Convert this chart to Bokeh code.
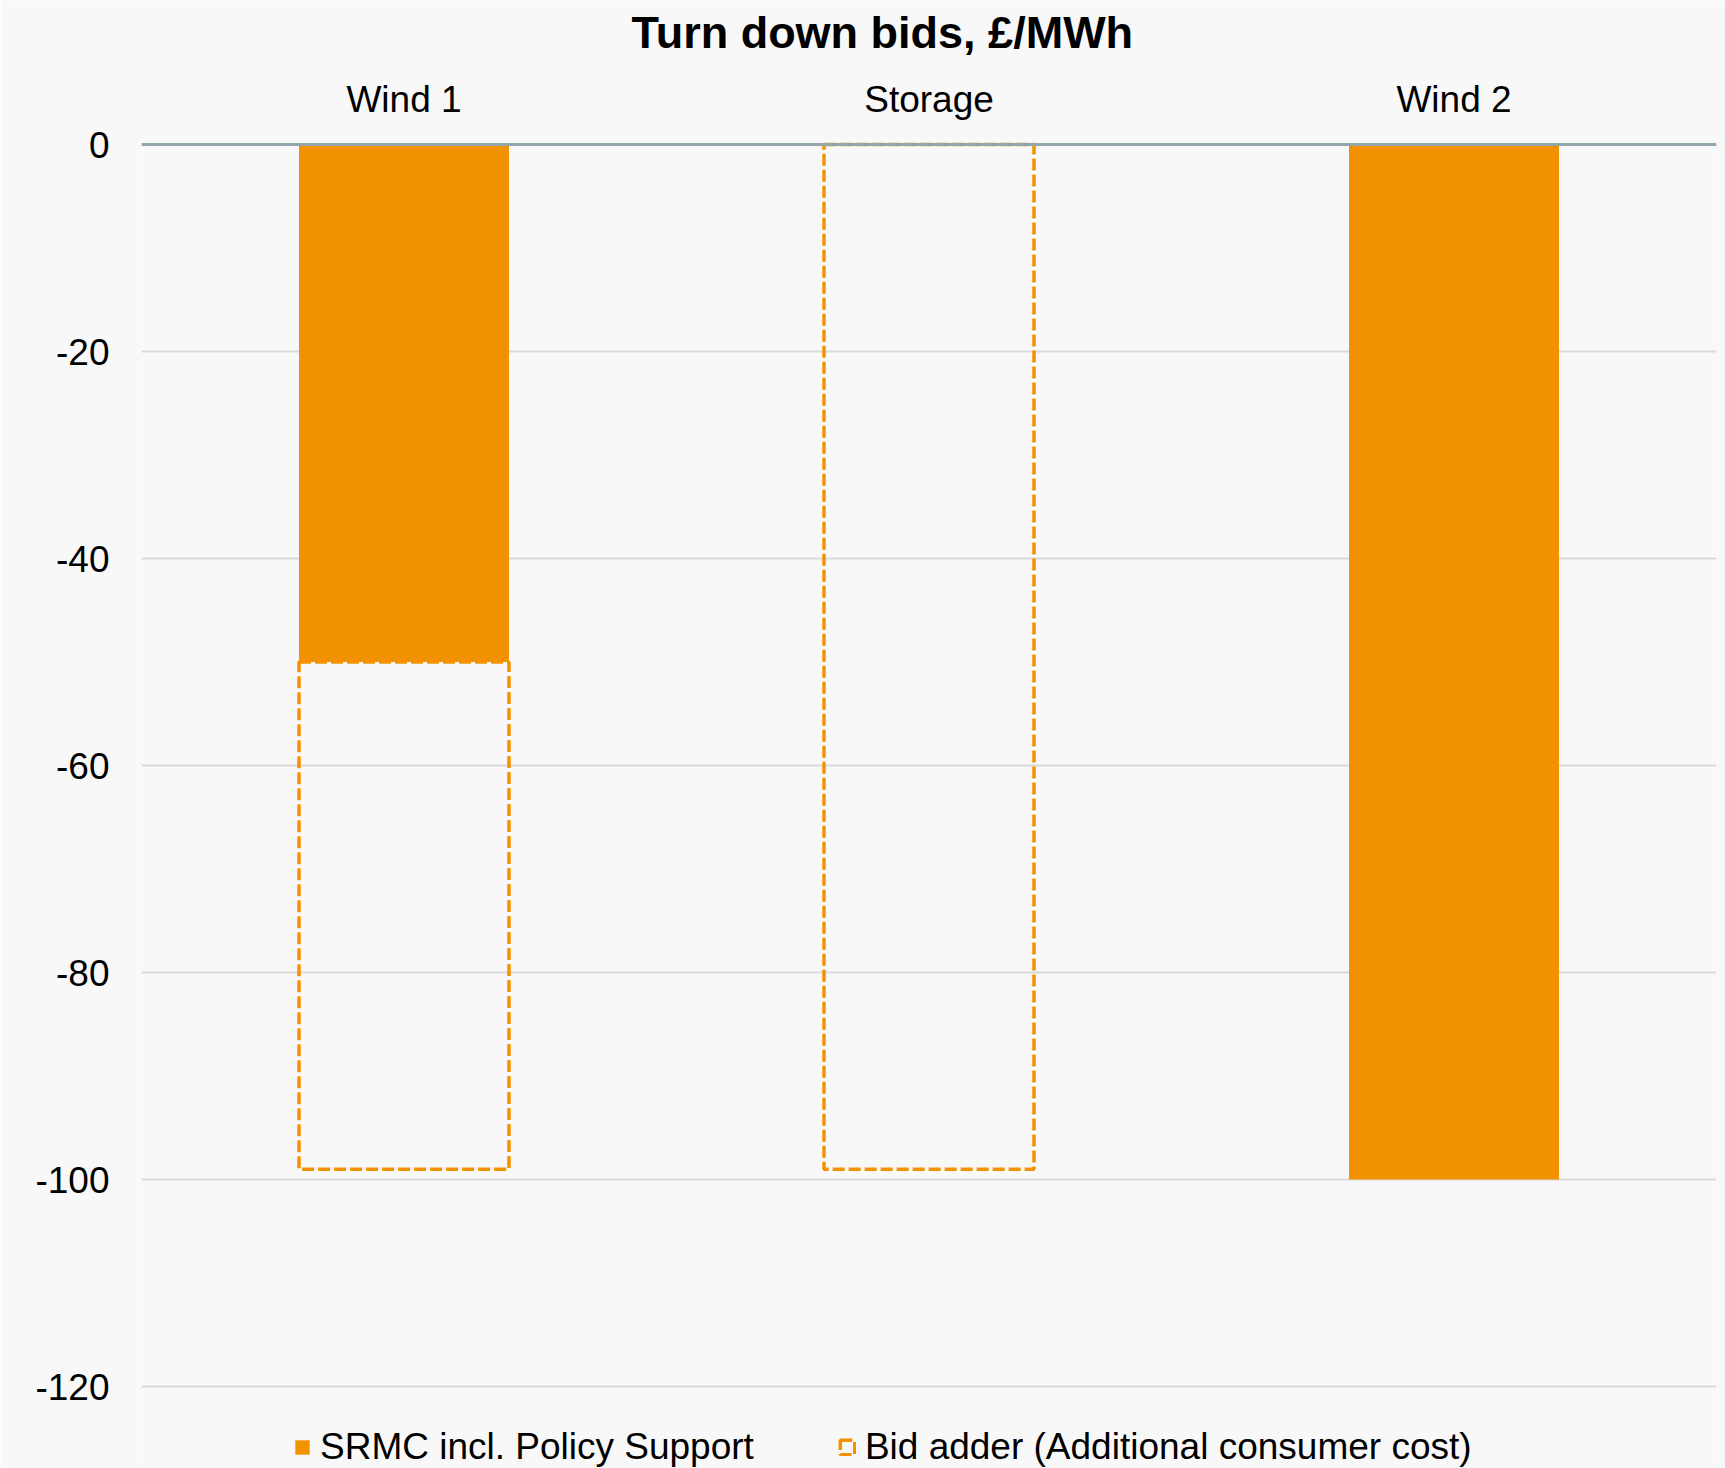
from bokeh.plotting import figure
from bokeh.models import (ColumnDataSource, FactorRange, Range1d, FixedTicker,
                          Span, Legend, LegendItem, CustomJSTickFormatter)
from bokeh.embed import file_html
from bokeh.resources import INLINE

# Turn down bids by unit, £/MWh
categories = ["Wind 1", "Storage", "Wind 2"]
srmc = [-50, 0, -100]          # SRMC incl. Policy Support
bid_adder = [-49, -99, 0]      # Bid adder (Additional consumer cost)
y_ticks = [-120, -100, -80, -60, -40, -20, 0]

ORANGE = "#f39200"
BG = "#f8f8f8"
FONT = "Liberation Sans"

# stacked segments: solid SRMC from 0, dashed adder hanging below it
solid = ColumnDataSource(dict(
    x=[c for c, s in zip(categories, srmc) if s != 0],
    top=[0 for s in srmc if s != 0],
    bottom=[s for s in srmc if s != 0],
))
adder = ColumnDataSource(dict(
    x=[c for c, b in zip(categories, bid_adder) if b != 0],
    top=[s for s, b in zip(srmc, bid_adder) if b != 0],
    bottom=[s + b for s, b in zip(srmc, bid_adder) if b != 0],
))

# the frame runs down to the page bottom so the legend can sit under -120
p = figure(
    width=1725, height=1468,
    x_range=FactorRange(*categories, range_padding=0),
    y_range=Range1d(-127.92, 0.29),
    x_axis_location="above",
    output_backend="svg", toolbar_location=None,
    min_border_left=141, min_border_right=9,
    min_border_top=141, min_border_bottom=0,
    background_fill_color=BG, border_fill_color=BG,
    outline_line_color=None,
)

r_solid = p.vbar(x="x", top="top", bottom="bottom", width=0.4, source=solid,
                 fill_color=ORANGE, line_color=None)
r_adder = p.vbar(x="x", top="top", bottom="bottom", width=0.4, source=adder,
                 fill_color=None, line_color=ORANGE, line_width=3.5,
                 line_dash="12 4")

p.add_layout(Span(location=0, dimension="width", line_color="#91a7ab",
                  line_width=3))

# title
p.title.text = "Turn down bids, £/MWh"
p.title.text_font = FONT
p.title.text_font_size = "45px"
p.title.text_font_style = "bold"
p.title.text_color = "#000000"
p.title.align = "left"
p.title.offset = 490
p.title.standoff = 8

# axes
for ax in (p.xaxis[0], p.yaxis[0]):
    ax.axis_line_color = None
    ax.major_tick_line_color = None
    ax.minor_tick_line_color = None
    ax.major_label_text_font = FONT
    ax.major_label_text_font_size = "37px"
    ax.major_label_text_color = "#000000"
p.yaxis[0].ticker = FixedTicker(ticks=y_ticks)
p.yaxis[0].formatter = CustomJSTickFormatter(code="return tick.toString()")
p.yaxis[0].major_label_standoff = 26
p.xaxis[0].major_label_standoff = 16
# blank axis label keeps a gap between the category names and the title
p.xaxis[0].axis_label = " "
p.xaxis[0].axis_label_text_font_size = "2px"
p.xaxis[0].axis_label_standoff = 9

p.xgrid.grid_line_color = None
p.ygrid.grid_line_color = "#d9d9d9"
p.ygrid.grid_line_width = 2

legend = Legend(
    items=[LegendItem(label="SRMC incl. Policy Support", renderers=[r_solid]),
           LegendItem(label="Bid adder (Additional consumer cost)", renderers=[r_adder])],
    orientation="horizontal", location=(152, 0),
    glyph_width=18, glyph_height=18, label_standoff=9, spacing=84,
    padding=0, margin=0, background_fill_alpha=0, border_line_color=None,
    label_text_font=FONT, label_text_font_size="37px", label_text_color="#000000",
)
p.add_layout(legend)

open("out.html", "w").write(file_html(p, INLINE))
